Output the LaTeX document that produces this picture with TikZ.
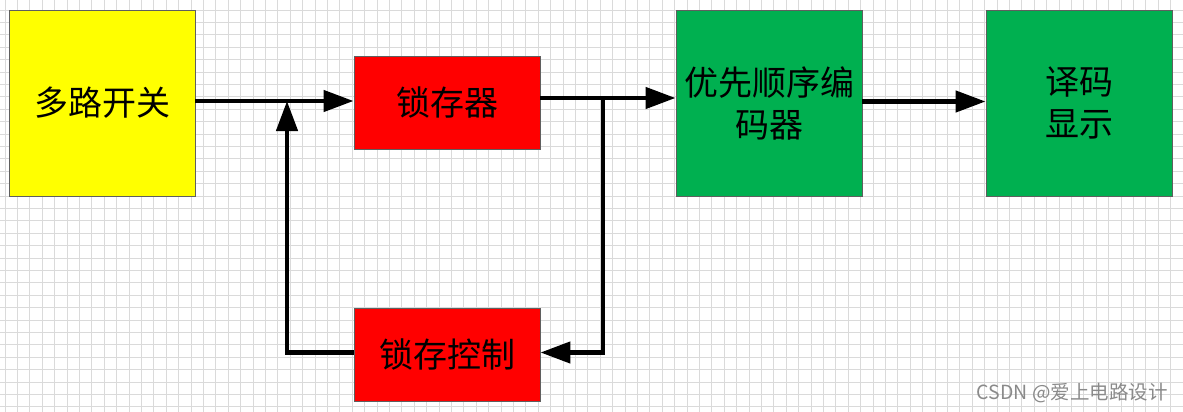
\documentclass[tikz,border=0pt]{standalone}
\usepackage{fontspec}
\newfontfamily\cjk{Noto Sans CJK SC}
\usetikzlibrary{arrows.meta}
\definecolor{gridc}{HTML}{DADADA}
\definecolor{bordc}{HTML}{5F5F5F}
\definecolor{ygel}{HTML}{FFFF00}
\definecolor{rred}{HTML}{FF0000}
\definecolor{ggrn}{HTML}{00B050}
\definecolor{wmark}{HTML}{8A8A8A}
\tikzset{
  blk/.style={draw=bordc, line width=0.9pt, rectangle, inner sep=0pt, align=center,
    font=\cjk\fontsize{34}{42}\selectfont, text=black},
  bigblk/.style={blk, minimum width=186pt, minimum height=186pt},
  smallblk/.style={blk, minimum width=186pt, minimum height=93pt},
  conn/.style={line width=4.5pt, black},
  arr/.style={conn, -{Triangle[length=30pt,width=21pt]}},
  gridline/.style={gridc, line width=0.8pt}
}
\begin{document}
\begin{tikzpicture}[x=1pt,y=-1pt]
\useasboundingbox (0,0) rectangle (1183,412);
\fill[white] (0,0) rectangle (1183,412);
\foreach \i in {0,...,95} {\draw[gridline] ({4.9+12.4*\i},0) -- ({4.9+12.4*\i},412);}
\foreach \j in {0,...,32} {\draw[gridline] (0,{10+12.4*\j}) -- (1183,{10+12.4*\j});}

\node[bigblk, fill=ygel] (sw) at (102,103) {多路开关};
\node[smallblk, fill=rred] (lat) at (447,102.5) {锁存器};
\node[bigblk, fill=ggrn] (enc) at (769,103) {优先顺序编\\码器};
\node[bigblk, fill=ggrn] (dec) at (1079,103) {译码\\显示};
\node[smallblk, fill=rred] (ctl) at (447,354.5) {锁存控制};

\coordinate (r1) at (0,101);
\coordinate (r2) at (0,98);
\coordinate (r3) at (0,101.5);
\coordinate (r4) at (0,352.5);
\coordinate (j1) at (287,101);
\coordinate (j2) at (603,98);

\draw[arr] (sw.east |- r1) -- (lat.west |- r1);
\draw[arr] (ctl.west |- r4) -| (j1);
\draw[arr] (lat.east |- r2) -- (enc.west |- r2);
\draw[arr] (j2) |- (ctl.east |- r4);
\draw[arr] (enc.east |- r3) -- (dec.west |- r3);

\node[anchor=east, text=wmark, font=\cjk\fontsize{19.5}{22}\selectfont, inner sep=0pt] (wm) at (1168,393) {CSDN @爱上电路设计};
\end{tikzpicture}
\end{document}
